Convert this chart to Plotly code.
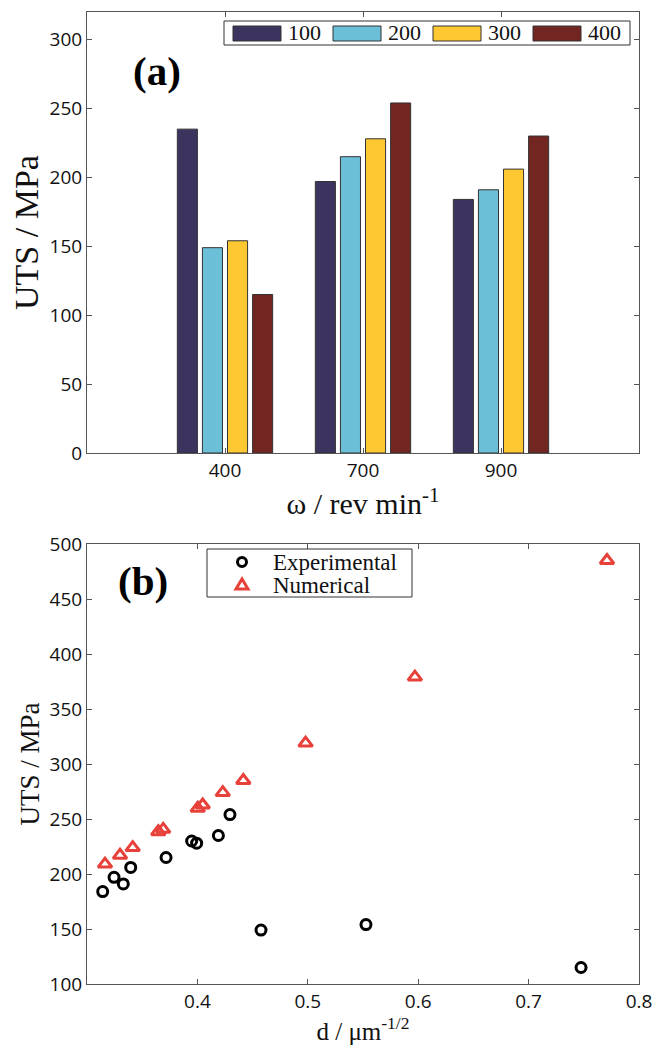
import plotly.graph_objects as go

# ---------------- data: panel (a) ----------------
speeds = ["400", "700", "900"]            # omega / rev min^-1
series_names = ["100", "200", "300", "400"]
uts_100 = [235, 197, 184]
uts_200 = [149, 215, 191]
uts_300 = [154, 228, 206]
uts_400 = [115, 254, 230]

# ---------------- data: panel (b) ----------------
exp_d = [0.3142, 0.3245, 0.3329, 0.3396, 0.3716, 0.3948, 0.3993, 0.4190, 0.4295, 0.4576, 0.5527, 0.7475]
exp_uts = [184, 197, 191, 206, 215, 230, 228, 235, 254, 149, 154, 115]
num_d = [0.3163, 0.3299, 0.3414, 0.3646, 0.3690, 0.4003, 0.4048, 0.4230, 0.4416, 0.4980, 0.5970, 0.7710]
num_uts = [209, 217, 224, 238.5, 240.6, 259.7, 262.7, 274, 285, 319, 379, 485]
scatter_names = ["Experimental", "Numerical"]

bar_colors = ["#3c345e", "#6bbfd7", "#fdc832", "#722622"]
EXP_COLOR = "black"
NUM_COLOR = "#e8413a"

W, H = 666, 1045
def fx(p):
    return p / W
def fy(p):
    return 1 - p / H

SERIF = "Liberation Serif"
SANS = "Open Sans"
AX = "#555555"
TXT = "#111111"

fig = go.Figure()
for name, vals, col in zip(series_names, [uts_100, uts_200, uts_300, uts_400], bar_colors):
    fig.add_trace(go.Bar(
        x=speeds, y=vals, name=name, showlegend=False,
        marker=dict(color=col, line=dict(color="#333333", width=1)),
        xaxis="x", yaxis="y"))

fig.add_trace(go.Scatter(
    x=exp_d, y=exp_uts, mode="markers", name=scatter_names[0], showlegend=False,
    marker=dict(symbol="circle-open", size=10, color=EXP_COLOR, line=dict(width=3, color=EXP_COLOR)),
    xaxis="x2", yaxis="y2"))
fig.add_trace(go.Scatter(
    x=num_d, y=num_uts, mode="markers", name=scatter_names[1], showlegend=False,
    marker=dict(symbol="triangle-up-open", size=12, color=NUM_COLOR, line=dict(width=3, color=NUM_COLOR)),
    xaxis="x2", yaxis="y2"))

axis_common = dict(showline=True, linecolor=AX, linewidth=1, mirror="ticks",
                   ticks="inside", ticklen=5, tickcolor=AX, showgrid=False,
                   zeroline=False, automargin=False,
                   tickfont=dict(family=SANS, size=19, color=TXT))

fig.update_layout(
    width=W, height=H,
    margin=dict(l=0, r=0, t=0, b=0),
    paper_bgcolor="white", plot_bgcolor="white",
    showlegend=False,
    barmode="group", bargap=0.2727, bargroupgap=0.2,
    xaxis=dict(domain=[fx(87), fx(639)], anchor="y", type="category",
               range=[-1, 3],
               title=dict(text="ω / rev min<sup>-1</sup>", standoff=5,
                          font=dict(family=SERIF, size=30, color=TXT)),
               **axis_common),
    yaxis=dict(domain=[fy(453), fy(12)], anchor="x", range=[0, 320],
               tickvals=[0, 50, 100, 150, 200, 250, 300],
               title=dict(text="UTS / MPa", standoff=0,
                          font=dict(family=SERIF, size=34, color=TXT)),
               **axis_common),
    xaxis2=dict(domain=[fx(87), fx(639)], anchor="y2", range=[0.3, 0.8],
                tickvals=[0.4, 0.5, 0.6, 0.7, 0.8],
                ticktext=["0.4", "0.5", "0.6", "0.7", "0.8"],
                title=dict(text="d / μm<sup>-1/2</sup>", standoff=3,
                           font=dict(family=SERIF, size=25, color=TXT)),
                **axis_common),
    yaxis2=dict(domain=[fy(984), fy(544)], anchor="x2", range=[100, 500],
                tickvals=[100, 150, 200, 250, 300, 350, 400, 450, 500],
                title=dict(text="UTS / MPa", standoff=2,
                           font=dict(family=SERIF, size=27, color=TXT)),
                **axis_common),
)

shapes = []
annotations = []

# legend box for panel (a): wide swatches in a horizontal row
shapes.append(dict(type="rect", xref="paper", yref="paper",
                   x0=fx(224), x1=fx(630), y0=fy(45), y1=fy(21),
                   line=dict(color="#333333", width=1), fillcolor="white", layer="above"))
for i, (name, col) in enumerate(zip(series_names, bar_colors)):
    x0 = 233 + i * 100
    shapes.append(dict(type="rect", xref="paper", yref="paper",
                       x0=fx(x0), x1=fx(x0 + 48), y0=fy(41), y1=fy(26),
                       line=dict(color="#333333", width=1), fillcolor=col, layer="above"))
    annotations.append(dict(text=name, xref="paper", yref="paper",
                            x=fx(x0 + 53), y=fy(33), xanchor="left", yanchor="middle",
                            showarrow=False, font=dict(family=SERIF, size=22, color=TXT)))

# legend box for panel (b)
shapes.append(dict(type="rect", xref="paper", yref="paper",
                   x0=fx(207), x1=fx(412), y0=fy(597), y1=fy(549),
                   line=dict(color="#333333", width=1), fillcolor="white", layer="above"))
# circle glyph
shapes.append(dict(type="circle", xref="paper", yref="paper",
                   x0=fx(237.5), x1=fx(246.5), y0=fy(566.5), y1=fy(557.5),
                   line=dict(color=EXP_COLOR, width=3), layer="above"))
# triangle glyph
cx, cy = 242, 585
shapes.append(dict(type="path", xref="paper", yref="paper",
                   path="M {:.5f},{:.5f} L {:.5f},{:.5f} L {:.5f},{:.5f} Z".format(
                       fx(cx - 6), fy(cy + 4), fx(cx + 6), fy(cy + 4), fx(cx), fy(cy - 6)),
                   line=dict(color=NUM_COLOR, width=3), layer="above"))
for name, ypix in zip(scatter_names, [562, 585]):
    annotations.append(dict(text=name, xref="paper", yref="paper",
                            x=fx(271), y=fy(ypix), xanchor="left", yanchor="middle",
                            showarrow=False, font=dict(family=SERIF, size=23, color=TXT)))

annotations.append(dict(text="<b>(a)</b>", xref="paper", yref="paper",
                        x=fx(157), y=fy(71), xanchor="center", yanchor="middle",
                        showarrow=False, font=dict(family=SERIF, size=41, color="black")))
annotations.append(dict(text="<b>(b)</b>", xref="paper", yref="paper",
                        x=fx(143), y=fy(581), xanchor="center", yanchor="middle",
                        showarrow=False, font=dict(family=SERIF, size=41, color="black")))

fig.update_layout(shapes=shapes, annotations=annotations)

fig.write_html("out.html")
